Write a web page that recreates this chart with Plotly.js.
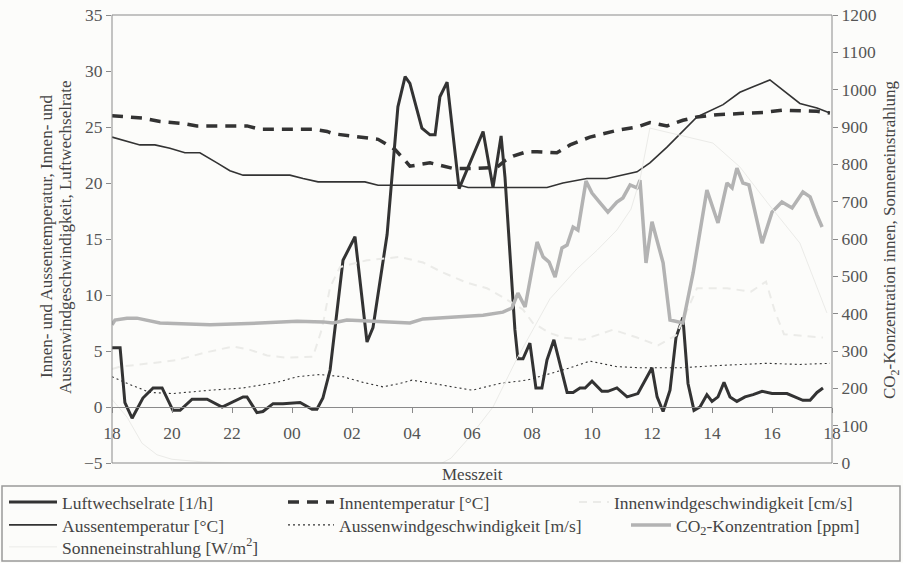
<!DOCTYPE html>
<html>
<head>
<meta charset="utf-8">
<script src="https://cdn.plot.ly/plotly-3.0.1.min.js"></script>
<style>html,body{margin:0;padding:0;background:#fcfcfa;}#chart{width:903px;height:563px;}</style>
</head>
<body>
<div id="chart"></div>
<script>
// Time in hours after 18:00
const tickHours = [0,2,4,6,8,10,12,14,16,18,20,22,24];
const tickLabels = ['18','20','22','00','02','04','06','08','10','12','14','16','18'];

const lwHours = [0,0.27,0.43,0.67,1.03,1.37,1.67,2.03,2.27,2.67,3.17,3.67,4.37,4.5,4.83,5.03,5.37,5.7,6.27,6.67,6.83,7.03,7.27,7.5,7.7,8.1,8.5,8.7,9.17,9.53,9.77,9.93,10.33,10.6,10.77,10.93,11.17,11.57,11.87,12.37,12.7,12.97,13.1,13.43,13.53,13.7,13.93,14.13,14.33,14.5,14.73,15.17,15.37,15.6,15.77,16.0,16.33,16.53,16.83,17.17,17.53,17.77,18.0,18.17,18.37,18.6,18.8,19.03,19.2,19.4,19.6,19.83,20.0,20.2,20.4,20.6,20.83,21.1,21.37,21.67,22.0,22.5,22.77,23.03,23.27,23.5,23.7];
const luftwechsel = [5.3,5.3,0.4,-1.0,0.8,1.7,1.7,-0.3,-0.3,0.7,0.7,0.0,0.9,0.9,-0.5,-0.4,0.3,0.3,0.4,-0.2,-0.2,0.8,3.3,8.4,13.1,15.2,5.8,7.1,15.4,26.8,29.5,28.9,24.9,24.3,24.3,27.7,29.0,19.5,21.4,24.6,19.6,24.2,20.5,6.9,4.3,4.3,5.7,1.7,1.7,4.2,6.0,1.3,1.3,1.7,1.7,2.3,1.4,1.4,1.7,0.9,1.2,2.4,3.5,0.9,-0.4,1.5,6.2,8.0,2.1,-0.3,0.0,1.1,0.5,0.9,2.2,0.9,0.5,0.9,1.1,1.4,1.2,1.2,0.9,0.6,0.6,1.3,1.7];

const itHours = [0,1.0,1.6,2.4,2.83,4.5,4.93,6.7,7.17,7.37,8.87,9.27,9.43,9.77,9.93,10.6,11.37,12.03,12.83,13.1,13.37,13.83,14.17,14.83,15.27,15.93,16.83,17.5,17.93,18.5,19.03,19.5,20.17,20.93,21.7,22.37,23.5,23.93];
const innentemp = [26.0,25.8,25.5,25.3,25.1,25.1,24.8,24.8,24.6,24.4,23.9,23.2,23.0,22.0,21.5,21.8,21.3,21.3,21.4,22.0,22.4,22.8,22.8,22.7,23.4,24.1,24.7,25.0,25.4,25.1,25.6,25.9,26.1,26.2,26.3,26.5,26.4,26.25];

const iwHours = [0,0.27,1.27,2.17,3.17,4.03,4.6,5.17,5.83,6.7,7.0,7.27,7.6,8.5,9.6,10.37,11.03,11.83,12.5,13.03,13.7,14.03,14.6,15.03,15.7,16.7,17.5,18.2,18.8,19.5,20.5,21.3,21.8,22.1,22.4,23.7];
const innenwind = [3.4,3.6,3.9,4.2,4.9,5.4,5.1,4.6,4.4,4.5,7.0,10.7,12.5,13.1,13.4,12.9,12.0,11.1,10.6,9.8,8.7,7.5,6.6,6.2,6.0,6.9,6.2,5.5,6.4,10.6,10.6,10.3,11.2,8.5,6.5,6.2];

const atHours = [0,0.93,1.43,1.93,2.43,2.93,3.5,3.93,4.37,5.93,6.37,6.87,8.43,8.87,11.6,11.87,14.5,15.03,15.83,16.5,17.5,17.93,18.5,19.03,19.5,20.37,20.93,21.37,21.93,22.93,23.5,23.93];
const aussentemp = [24.1,23.4,23.4,23.1,22.7,22.7,21.8,21.1,20.7,20.7,20.4,20.1,20.1,19.8,19.8,19.6,19.6,20.0,20.4,20.4,21.0,21.8,23.2,24.6,25.9,27.0,28.1,28.6,29.2,27.1,26.7,26.25];

const awHours = [0,0.6,1.27,2.03,3.27,4.37,5.5,6.17,6.93,7.7,8.37,9.03,9.6,10.0,10.7,11.6,12.0,12.93,13.83,14.5,15.27,15.93,16.83,17.6,18.93,20.17,21.83,22.93,23.93];
const aussenwind = [2.7,2.0,1.3,1.2,1.5,1.7,2.2,2.7,2.9,2.7,2.2,1.8,2.1,2.4,2.1,1.7,1.5,2.1,2.4,2.9,3.5,4.1,3.6,3.5,3.5,3.7,3.9,3.8,3.9];

const co2Hours = [0,0.1,0.5,0.83,1.6,3.27,4.93,6.17,7.03,7.37,7.83,9.6,9.93,10.37,11.5,12.37,13.03,13.33,13.53,13.77,14.17,14.37,14.57,14.77,15.0,15.17,15.37,15.53,15.8,16.0,16.27,16.53,16.83,17.03,17.27,17.5,17.6,17.8,18.0,18.37,18.6,18.87,19.03,19.37,19.83,20.2,20.5,20.67,20.83,21.03,21.23,21.67,22.0,22.33,22.67,23.03,23.27,23.5,23.67];
const co2 = [370,383,388,388,375,370,375,380,378,375,383,378,375,386,391,396,404,415,455,418,592,552,538,498,576,584,632,624,755,723,697,672,699,710,745,737,758,536,646,536,383,378,375,509,731,643,750,737,790,750,745,589,672,699,683,726,713,664,632];

const sunHours = [0,0.5,1.0,1.5,2.0,3.0,4.0,11.0,11.3,11.93,12.7,13.5,14.6,15.5,16.17,16.83,17.3,17.6,17.93,20.03,20.93,21.83,22.93,23.83];
const sonne = [170,123,53,22,10,3,0,0,13,70,150,280,440,520,570,624,680,760,897,857,793,699,589,402];

const FONT = '"Liberation Serif", "Times New Roman", Times, serif';
const FS = 17.5;
const TS = 17;
const AX = '#8a8a8a';
const dark = '#333333';

const traces = [
  {x: lwHours, y: luftwechsel, name: 'Luftwechselrate [1/h]', mode: 'lines', line: {color: dark, width: 3}, legend: 'legend'},
  {x: itHours, y: innentemp, name: 'Innentemperatur [°C]', mode: 'lines', line: {color: dark, width: 3.5, dash: '11px,8px'}, legend: 'legend2'},
  {x: iwHours, y: innenwind, name: 'Innenwindgeschwindigkeit [cm/s]', mode: 'lines', line: {color: '#ebebe8', width: 2, dash: '8px,6px'}, legend: 'legend3'},
  {x: atHours, y: aussentemp, name: 'Aussentemperatur [°C]', mode: 'lines', line: {color: dark, width: 1.6}, legend: 'legend4'},
  {x: awHours, y: aussenwind, name: 'Aussenwindgeschwindigkeit [m/s]', mode: 'lines', line: {color: dark, width: 1.1, dash: '2px,3px'}, legend: 'legend5'},
  {x: co2Hours, y: co2, name: 'CO<sub>2</sub>-Konzentration [ppm]', mode: 'lines', yaxis: 'y2', line: {color: '#b3b3b3', width: 3.5}, legend: 'legend6'},
  {x: sunHours, y: sonne, name: 'Sonneneinstrahlung [W/m<sup>2</sup>]', mode: 'lines', yaxis: 'y2', line: {color: '#ebebe8', width: 1}, legend: 'legend7'}
];

const px = v => (v - 112) / 720;
const py = v => (463 - v) / 448;
const legFont = {family: FONT, size: FS, color: '#444'};
const leg = (x, y, w) => ({orientation: 'v', bgcolor: 'rgba(0,0,0,0)', borderwidth: 0, font: legFont,
  xanchor: 'left', yanchor: 'middle', x: px(x), y: py(y), itemwidth: w});

const layout = {
  width: 903, height: 563,
  margin: {l: 112, r: 71, t: 15, b: 100, pad: 0, autoexpand: false},
  paper_bgcolor: '#fcfcfa', plot_bgcolor: '#fcfcfa',
  font: {family: FONT, size: FS, color: '#555'},
  showlegend: true,
  xaxis: {range: [0, 24], tickvals: tickHours, ticktext: tickLabels, anchor: 'free', position: 0.125,
    showline: true, linecolor: AX, linewidth: 1, ticks: 'outside', ticklen: 5, tickcolor: AX,
    showgrid: false, zeroline: false, tickfont: {family: FONT, size: FS, color: '#555'}, ticklabelstandoff: 5, fixedrange: true},
  xaxis2: {range: [0, 24], tickvals: tickHours, overlaying: 'x', anchor: 'free', position: 0.125,
    showline: false, ticks: 'inside', ticklen: 5, tickcolor: AX, showticklabels: false, showgrid: false, zeroline: false},
  yaxis: {range: [-5, 35], tickvals: [-5,0,5,10,15,20,25,30,35], ticks: 'outside', ticklen: 5, tickcolor: AX,
    showline: false, showgrid: false, zeroline: false, tickfont: {family: FONT, size: FS, color: '#555'}, anchor: 'x'},
  yaxis2: {range: [0, 1200], tickvals: [0,100,200,300,400,500,600,700,800,900,1000,1100,1200], overlaying: 'y', side: 'right', anchor: 'x',
    ticks: 'outside', ticklen: 5, tickcolor: AX, showline: false, showgrid: false, zeroline: false,
    tickfont: {family: FONT, size: FS, color: '#555'}},
  yaxis3: {range: [-5, 35], tickvals: [-5,0,5,10,15,20,25,30,35], overlaying: 'y', side: 'left', anchor: 'x',
    ticks: 'inside', ticklen: 4, tickcolor: AX, showticklabels: false, showgrid: false, zeroline: false, showline: false},
  yaxis4: {range: [0, 1200], tickvals: [0,100,200,300,400,500,600,700,800,900,1000,1100,1200], overlaying: 'y', side: 'right', anchor: 'x',
    ticks: 'inside', ticklen: 4, tickcolor: AX, showticklabels: false, showgrid: false, zeroline: false, showline: false},
  legend:  leg(4, 502, 48),
  legend2: leg(283, 502, 46),
  legend3: leg(574, 502, 30),
  legend4: leg(4, 525, 48),
  legend5: leg(283, 525, 46),
  legend6: leg(626, 525, 40),
  legend7: leg(4, 547, 48),
  shapes: [
    {type: 'rect', xref: 'paper', yref: 'paper', x0: 0, x1: 1, y0: 0, y1: 1, line: {color: AX, width: 1}},
    {type: 'rect', xref: 'paper', yref: 'paper', x0: px(2), x1: px(900), y0: py(561), y1: py(486), line: {color: '#999', width: 1.5}}
  ],
  annotations: [
    {text: 'Messzeit', xref: 'paper', yref: 'paper', x: 0.5, y: 0, xanchor: 'center', yanchor: 'top', yshift: 0, showarrow: false,
      font: {family: FONT, size: TS, color: '#444'}},
    {text: 'Innen- und Aussentemperatur, Innen- und', xref: 'paper', yref: 'paper',
      x: px(46), y: py(236), xanchor: 'center', yanchor: 'middle', textangle: -90, showarrow: false,
      font: {family: FONT, size: TS, color: '#444'}},
    {text: 'Aussenwindgeschwindigkeit, Luftwechselrate', xref: 'paper', yref: 'paper',
      x: px(66), y: py(238), xanchor: 'center', yanchor: 'middle', textangle: -90, showarrow: false,
      font: {family: FONT, size: TS, color: '#444'}},
    {text: 'CO<sub>2</sub>-Konzentration innen, Sonneneinstrahlung', xref: 'paper', yref: 'paper',
      x: px(891), y: py(240), xanchor: 'center', yanchor: 'middle', textangle: -90, showarrow: false,
      font: {family: FONT, size: TS, color: '#444'}}
  ]
};

Plotly.newPlot('chart', traces, layout, {displayModeBar: false, staticPlot: true});
</script>
</body>
</html>
